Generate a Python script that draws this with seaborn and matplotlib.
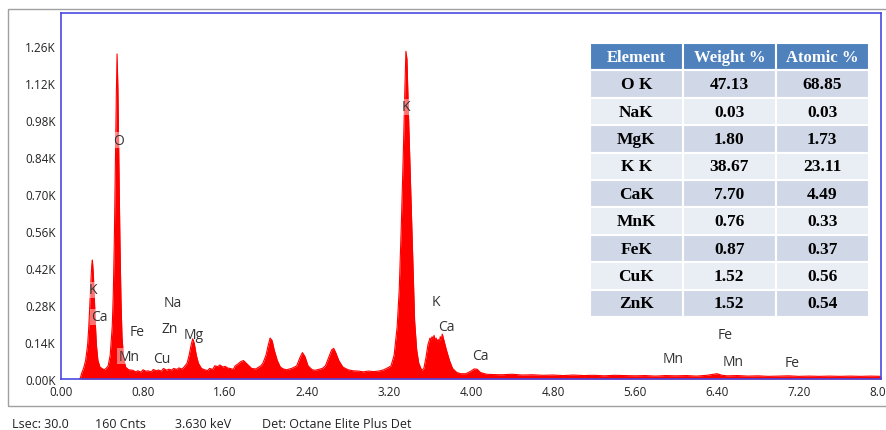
import numpy as np
import pandas as pd
import matplotlib.pyplot as plt
import matplotlib as mpl
import seaborn as sns
from matplotlib.patches import Rectangle

# EDS spectrum (energy in keV, counts in thousands)
energy = [0.18, 0.19, 0.20, 0.22, 0.24, 0.26, 0.27, 0.28, 0.29, 0.30, 0.306, 0.315, 0.325,
          0.335, 0.345, 0.36, 0.38, 0.40, 0.42, 0.44, 0.46, 0.48, 0.50, 0.51, 0.52, 0.53,
          0.54, 0.547, 0.555, 0.565, 0.575, 0.585, 0.595, 0.61, 0.63, 0.66, 0.70, 0.73, 0.75,
          0.78, 0.80, 0.83, 0.85, 0.88, 0.90, 0.93, 0.95, 0.98, 1.00, 1.03, 1.05, 1.08, 1.10,
          1.13, 1.15, 1.18, 1.20, 1.23, 1.25, 1.27, 1.285,
          1.30, 1.32, 1.34, 1.37, 1.40, 1.43, 1.45, 1.48, 1.50, 1.53, 1.55, 1.58, 1.60, 1.63,
          1.65, 1.68, 1.70, 1.73, 1.75, 1.78,
          1.82, 1.86, 1.90, 1.95, 1.97, 2.00, 2.02, 2.04, 2.06, 2.08, 2.11, 2.14, 2.17, 2.20,
          2.25, 2.30, 2.33, 2.355, 2.38, 2.41, 2.45, 2.48, 2.50, 2.55, 2.58, 2.61, 2.64, 2.66,
          2.68, 2.71, 2.75, 2.80, 2.85, 2.90, 2.95, 3.00, 3.05, 3.10, 3.15, 3.20, 3.22, 3.25,
          3.28, 3.30, 3.32, 3.34, 3.355, 3.365, 3.375, 3.39, 3.41, 3.43, 3.45, 3.47, 3.49,
          3.52, 3.54, 3.56, 3.58, 3.60, 3.61, 3.62, 3.63, 3.64, 3.65, 3.66, 3.67, 3.68, 3.69,
          3.70, 3.71, 3.72, 3.73, 3.74, 3.76, 3.79, 3.82,
          3.86, 3.90, 3.95, 4.00, 4.03, 4.06, 4.09, 4.15, 4.20, 4.30, 4.40, 4.50, 4.60, 4.70,
          4.80, 4.90, 5.00, 5.10, 5.20, 5.30, 5.40, 5.50, 5.60, 5.70, 5.80, 5.90, 6.00, 6.10,
          6.20, 6.30, 6.40, 6.45, 6.50, 6.60, 6.70, 6.80, 6.90, 7.00, 7.10, 7.20, 7.30, 7.40,
          7.50, 7.60, 7.70, 7.80, 7.90, 8.00]
counts = [0.0, 0.005, 0.02, 0.04, 0.07, 0.13, 0.19, 0.27, 0.36, 0.43, 0.45, 0.40, 0.31,
          0.21, 0.13, 0.07, 0.045, 0.04, 0.035, 0.04, 0.05, 0.09, 0.20, 0.32, 0.52, 0.80,
          1.08, 1.23, 1.10, 0.80, 0.52, 0.30, 0.16, 0.08, 0.045, 0.035, 0.033, 0.027, 0.031,
          0.026, 0.035, 0.029, 0.031, 0.027, 0.036, 0.031, 0.034, 0.03, 0.04, 0.033, 0.037,
          0.034, 0.04, 0.036, 0.042, 0.038, 0.045, 0.06, 0.09, 0.13, 0.152,
          0.135, 0.09, 0.06, 0.04, 0.035, 0.032, 0.04, 0.036, 0.05, 0.047, 0.053, 0.045, 0.048,
          0.041, 0.04, 0.036, 0.05, 0.058, 0.065, 0.07,
          0.055, 0.04, 0.038, 0.05, 0.06, 0.09, 0.125, 0.155, 0.145, 0.11, 0.07, 0.045, 0.038,
          0.035, 0.04, 0.05, 0.08, 0.10, 0.085, 0.05, 0.035, 0.033, 0.035, 0.04, 0.05, 0.08,
          0.11, 0.116, 0.10, 0.07, 0.045, 0.035, 0.031, 0.03, 0.027, 0.03, 0.028, 0.03, 0.035,
          0.045, 0.05, 0.09, 0.20, 0.34, 0.58, 0.86, 1.10, 1.24, 1.21, 1.00, 0.74, 0.48, 0.22,
          0.11, 0.06, 0.032, 0.04, 0.08, 0.13, 0.155, 0.148, 0.16, 0.152, 0.165, 0.145, 0.155,
          0.14, 0.15, 0.138, 0.16, 0.15, 0.17, 0.155, 0.14, 0.11, 0.07, 0.04,
          0.025, 0.02, 0.02, 0.03, 0.038, 0.037, 0.025, 0.018, 0.017, 0.016, 0.018, 0.015, 0.016,
          0.014, 0.015, 0.013, 0.015, 0.013, 0.014, 0.012, 0.014, 0.013, 0.012, 0.013, 0.011,
          0.013, 0.012, 0.013, 0.011, 0.014, 0.02, 0.014, 0.012, 0.013, 0.011, 0.012, 0.010,
          0.011, 0.012, 0.010, 0.011, 0.010, 0.011, 0.010, 0.011, 0.010, 0.011, 0.010]

# peak labels (text, keV, counts K)
peak_text = ['K', 'Ca', 'O', 'Fe', 'Mn', 'Na', 'Zn', 'Mg', 'Cu', 'K', 'K', 'Ca', 'Ca',
             'Mn', 'Mn', 'Fe', 'Fe']
peak_x = [0.31, 0.37, 0.56, 0.74, 0.66, 1.09, 1.06, 1.29, 0.98, 3.36, 3.66, 3.76, 4.09,
          5.97, 6.56, 6.48, 7.13]
peak_y = [0.337, 0.235, 0.904, 0.18, 0.087, 0.29, 0.19, 0.17, 0.076, 1.03, 0.295, 0.197,
          0.09, 0.076, 0.068, 0.17, 0.064]
peak_boxed = [True, True, True, False, True, False, False, False, False, True, False, False,
              False, False, False, False, False]

# quantification table
elements = ['O K', 'NaK', 'MgK', 'K K', 'CaK', 'MnK', 'FeK', 'CuK', 'ZnK']
weight_pct = ['47.13', '0.03', '1.80', '38.67', '7.70', '0.76', '0.87', '1.52', '1.52']
atomic_pct = ['68.85', '0.03', '1.73', '23.11', '4.49', '0.33', '0.37', '0.56', '0.54']

yticks = [0.0, 0.14, 0.28, 0.42, 0.56, 0.70, 0.84, 0.98, 1.12, 1.26]
xticks = [0.0, 0.8, 1.6, 2.4, 3.2, 4.0, 4.8, 5.6, 6.4, 7.2, 8.0]

sns.set_style('white')
plt.rcParams['font.family'] = ['Open Sans', 'DejaVu Sans']

df = pd.DataFrame({'keV': energy, 'cnts': counts})

fig = plt.figure(figsize=(8.87, 4.31), dpi=100)
ax = fig.add_axes([61 / 887, 51 / 431, 820 / 887, 366 / 431])

ax.fill_between(df['keV'], 0, df['cnts'], color='#ff0000', lw=0)
sns.lineplot(data=df, x='keV', y='cnts', ax=ax, color='#ff0000', lw=0.8)

ax.set_xlim(0, 8)
ax.set_ylim(0, 1.385)
ax.set_xticks(xticks)
ax.set_xticklabels(['%.2f' % v for v in xticks], fontsize=8.5, color='#222222')
ax.set_yticks(yticks)
ax.set_yticklabels(['%.2fK' % v for v in yticks], fontsize=8.5, color='#222222')
ax.set_xlabel('')
ax.set_ylabel('')
ax.tick_params(axis='both', length=2, width=0.8, color='#4444dd', pad=2)
for s in ax.spines.values():
    s.set_color('#4a4ae0')
    s.set_linewidth(1.2)

for t, x, y, b in zip(peak_text, peak_x, peak_y, peak_boxed):
    kw = {}
    if b:
        kw['bbox'] = dict(boxstyle='square,pad=0.05', fc='white', ec='none', alpha=0.45)
    ax.text(x, y, t, ha='center', va='center', fontsize=10, color='#333333', **kw)

# table
cells = [[e, w, a] for e, w, a in zip(elements, weight_pct, atomic_pct)]
tab = ax.table(cellText=cells, colLabels=['Element', 'Weight %', 'Atomic %'],
               cellLoc='center', bbox=[0.645, 0.169, 0.34, 0.749])
tab.auto_set_font_size(False)
for (r, c), cell in tab.get_celld().items():
    cell.set_edgecolor('white')
    cell.set_linewidth(1.5)
    if r == 0:
        cell.set_facecolor('#4f81bd')
        cell.get_text().set_color('white')
        cell.get_text().set_fontsize(12)
    else:
        cell.set_facecolor('#d0d8e8' if r % 2 == 1 else '#e9edf4')
        cell.get_text().set_color('black')
        cell.get_text().set_fontsize(12.5)
    cell.get_text().set_fontfamily('Liberation Serif')
    cell.get_text().set_fontweight('bold')

# outer frame and footer
fig.add_artist(Rectangle((8 / 887, 24 / 431), 0.995, 397 / 431, transform=fig.transFigure,
                         fill=False, ec='#a0a0a0', lw=1))
footer = ['Lsec: 30.0', '160 Cnts', '3.630 keV', 'Det: Octane Elite Plus Det']
footer_x = [12, 95, 175, 262]
for t, x in zip(footer, footer_x):
    fig.text(x / 887, 6 / 431, t, fontsize=9, color='#222222', va='center', ha='left')

plt.savefig('out.png', dpi=100)
